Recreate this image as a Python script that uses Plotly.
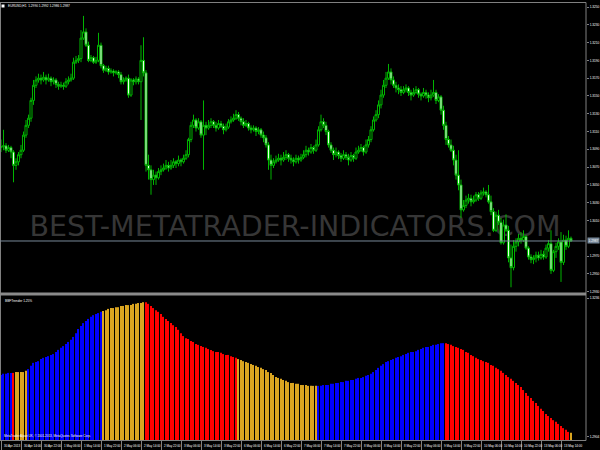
import plotly.graph_objects as go

# ---------------- data (EURUSD H1, 30 Apr 2013 06:00 .. 13 May 2013 18:00) ----------------
PIP_BASE = 1.2900   # prices below are stored in pips above this level
PIP = 0.0001

BAR_INDEX = list(range(229))

OPEN_PIPS = [192,193,194,189,192,187,172,176,184,189, 206,217,225,245,262,268,270,268,271,268,
             270,266,268,263,261,262,261,266,268,270, 288,290,292,315,322,307,290,293,288,290,
             307,284,279,281,277,278,276,277,274,266, 268,270,251,268,266,269,266,290,276,172,
             167,156,161,158,165,167,169,172,169,172, 176,174,178,176,180,184,201,217,223,214,
             221,206,217,214,217,221,217,214,219,216, 212,215,221,223,225,229,225,221,217,219,
             214,212,214,210,212,206,203,195,178,172, 176,178,180,178,181,184,180,178,176,180,
             178,181,184,189,187,192,189,195,212,221, 217,210,195,189,184,187,183,180,184,181,
             178,183,180,187,189,192,187,195,201,212, 223,229,240,251,262,270,277,268,262,259,
             257,254,257,259,254,251,254,257,252,250, 254,251,248,251,254,245,249,234,217,201,
             195,189,178,161,150,122,127,133,135,131, 133,139,135,141,142,139,131,120,99,116,
             108,85,105,99,68,57,81,86,90,88, 92,79,69,66,68,71,68,72,69,79,
             84,54,75,81,86,63,88,81,90]
HIGH_PIPS = [201,212,197,195,194,189,180,187,195,210, 223,229,248,268,272,275,274,277,274,275,
             272,271,270,266,266,265,270,272,275,293, 295,296,324,340,326,311,296,295,294,321,
             310,286,284,284,281,280,279,279,277,271, 272,274,270,270,272,271,307,316,279,184,
             172,167,165,169,172,174,178,176,178,180, 178,183,180,184,189,203,221,229,225,225,
             223,245,221,223,225,223,221,223,222,219, 219,224,227,230,234,232,227,225,223,221,
             217,217,216,215,214,210,206,198,184,180, 183,185,184,187,189,186,184,181,184,183,
             185,189,194,192,196,194,201,216,229,225, 221,212,198,192,192,189,186,189,187,185,
             187,185,192,194,196,194,201,205,216,227, 234,245,257,268,277,286,281,272,266,263,
             261,261,263,261,257,259,261,259,254,259, 257,254,257,268,257,252,251,239,221,205,
             201,194,184,189,156,133,138,140,139,138, 142,142,144,147,144,150,138,124,120,122,
             113,111,117,104,83,88,90,95,97,99, 94,81,72,71,75,75,77,76,83,88,
             99,77,85,90,97,94,93,99,92]
LOW_PIPS = [187,189,186,187,180,153,167,172,180,187, 203,214,221,240,259,265,263,266,263,266,
            261,263,259,257,259,257,259,263,266,268, 286,287,288,313,305,288,288,286,286,288,
            281,276,277,274,275,272,274,270,263,263, 266,248,249,262,263,263,223,272,165,156,
            139,150,150,156,161,165,167,165,167,169, 169,171,171,174,178,181,198,214,210,212,
            203,167,206,212,214,214,210,212,214,207, 210,213,219,221,223,222,217,214,215,211,
            208,210,205,207,203,198,192,167,156,169, 174,176,172,176,178,176,174,171,174,174,
            176,179,181,183,185,185,187,193,210,214, 206,192,186,178,181,179,176,178,178,172,
            176,176,178,185,187,183,185,192,198,210, 221,225,236,248,259,268,263,259,254,252,
            250,252,254,250,245,249,252,248,245,248, 247,243,245,249,241,243,229,212,195,192,
            187,172,156,144,113,120,124,129,126,129, 131,132,133,138,136,129,116,97,97,105,
            83,83,97,63,35,54,75,81,84,86, 77,66,62,61,63,65,66,66,67,75,
            50,52,68,77,41,60,77,79,86]
CLOSE_PIPS = [193,194,189,192,187,172,176,184,189,206, 217,225,245,262,268,270,268,271,268,270,
              266,268,263,261,262,261,266,268,270,288, 290,292,315,322,307,290,293,288,290,307,
              284,279,281,277,278,276,277,274,266,268, 270,251,268,266,269,266,290,276,172,167,
              156,161,158,165,167,169,172,169,172,176, 174,178,176,180,184,201,217,223,214,221,
              206,217,214,217,221,217,214,219,216,212, 215,221,223,225,229,225,221,217,219,214,
              212,214,210,212,206,203,195,178,172,176, 178,180,178,181,184,180,178,176,180,178,
              181,184,189,187,192,189,195,212,221,217, 210,195,189,184,187,183,180,184,181,178,
              183,180,187,189,192,187,195,201,212,223, 229,240,251,262,270,277,268,262,259,257,
              254,257,259,254,251,254,257,252,250,254, 251,248,251,254,245,249,234,217,201,195,
              189,178,161,150,122,127,133,135,131,133, 139,135,141,142,139,131,120,99,116,108,
              85,105,99,68,57,81,86,90,88,92, 79,69,66,68,71,68,72,69,79,84,
              54,75,81,86,63,88,81,90,87]

# indicator histogram values (pips above PIP_BASE) and its colour state runs
IND_PIPS = [152,155,155,157,157,157,159,159,159,159,162,
            166,174,181,183,185,190,193,195,197,200,202,207,212,217,221,226,231,236,243,252,
            262,269,276,281,286,291,295,298,300,303,
            305,307,310,312,312,314,314,317,317,319,319,319,322,322,324,324,326,
            326,322,317,312,307,303,298,291,286,281,276,271,267,260,252,245,240,238,233,231,
            226,224,221,219,217,214,212,209,207,207,205,202,200,200,197,195,193,
            190,188,185,183,181,178,176,174,171,169,166,164,159,157,152,147,145,143,140,138,
            135,133,133,131,131,128,128,128,126,126,126,126,
            126,126,128,128,128,131,131,133,133,135,135,138,138,140,140,143,145,145,147,150,
            152,155,159,164,169,174,178,183,185,188,190,193,195,197,200,202,205,207,207,209,
            212,214,217,219,219,221,224,224,226,228,228,
            228,226,224,221,219,217,214,212,207,205,200,197,193,190,188,185,183,181,176,174,
            169,166,162,157,152,147,143,138,133,128,123,116,109,102,97,90,85,78,71,66,
            59,54,49,44,40,35,30,25,21,16,
            14]
IND_RUNS = [("up", 5), ("down", 1), ("flat", 5), ("up", 30), ("flat", 17), ("down", 37),
            ("flat", 32), ("up", 51), ("down", 50), ("flat", 1)]
STATE_COLORS = {"up": "#0000ff", "down": "#ff0000", "flat": "#daa520"}

PRICE_TICKS = [1.3250, 1.3230, 1.3210, 1.3190, 1.3170, 1.3150, 1.3130, 1.3110, 1.3090,
               1.3070, 1.3050, 1.3030, 1.3010, 1.2970, 1.2950, 1.2930]
IND_TICKS = [1.3236, 1.2904]
CURRENT_PRICE = 1.2987

TIME_TICK_BARS = [0, 8, 16, 24, 32, 40, 48, 56, 64, 72, 80, 88, 96, 104, 112, 120, 128,
                  136, 144, 152, 160, 168, 176, 184, 192, 200, 208, 216, 224]
TIME_LABELS = ["30 Apr 2013", "30 Apr 14:00", "30 Apr 22:00",
               "1 May 06:00", "1 May 14:00", "1 May 22:00",
               "2 May 06:00", "2 May 14:00", "2 May 22:00",
               "3 May 06:00", "3 May 14:00", "3 May 22:00",
               "6 May 06:00", "6 May 14:00", "6 May 22:00",
               "7 May 06:00", "7 May 14:00", "7 May 22:00",
               "8 May 06:00", "8 May 14:00", "8 May 22:00",
               "9 May 06:00", "9 May 14:00", "9 May 22:00",
               "10 May 06:00", "10 May 14:00", "10 May 22:00",
               "13 May 06:00", "13 May 14:00"]

TITLE = "EURUSD,H1  1.2990 1.2992 1.2986 1.2987"
IND_TITLE = "BBFTrender 1.25%"
COPYRIGHT = "MetaTrader Alpari UK, © 2001-2013, MetaQuotes Software Corp."
WATERMARK = "BEST-METATRADER-INDICATORS.COM"

# ---------------- build ----------------
def to_price(p):
    return round(PIP_BASE + p * PIP, 5)

o = [to_price(v) for v in OPEN_PIPS]
h = [to_price(v) for v in HIGH_PIPS]
l = [to_price(v) for v in LOW_PIPS]
c = [to_price(v) for v in CLOSE_PIPS]
ind = [to_price(v) for v in IND_PIPS]

colors = []
for state, n in IND_RUNS:
    colors += [STATE_COLORS[state]] * n

W, H = 600, 450
PLOT_R = 586 / W
X_RANGE = [-0.4, 234.0]
MAIN_RANGE = [1.29291, 1.32545]
IND_RANGE = [1.28966, 1.32408]
IND_BASE = IND_RANGE[0]

def py(px):
    return 1 - px / H

FONT = "Liberation Sans, Arial, sans-serif"
GRAY = "#808080"

fig = go.Figure()

fig.add_trace(go.Scatter(
    x=[117.6], y=[1.30005], mode="text", text=[WATERMARK],
    textfont=dict(family="DejaVu Sans", size=28.5, color="#363636"),
    xaxis="x", yaxis="y", hoverinfo="skip", showlegend=False))

fig.add_trace(go.Candlestick(
    x=BAR_INDEX, open=o, high=h, low=l, close=c,
    xaxis="x3", yaxis="y3",
    increasing=dict(line=dict(color="#00b400", width=1), fillcolor="#000000"),
    decreasing=dict(line=dict(color="#00b400", width=1), fillcolor="#e8ffe8"),
    whiskerwidth=0, hoverinfo="skip", showlegend=False))

fig.add_trace(go.Bar(
    x=BAR_INDEX, y=[round(v - IND_BASE, 5) for v in ind], base=IND_BASE,
    xaxis="x2", yaxis="y2", width=0.42,
    marker=dict(color=colors, line=dict(width=0)),
    hoverinfo="skip", showlegend=False))

tickfont = dict(family=FONT, size=3.2, color="#ffffff")

fig.update_layout(
    width=W, height=H, margin=dict(l=0, r=0, t=0, b=0),
    paper_bgcolor="#000000", plot_bgcolor="#000000",
    showlegend=False, hovermode=False, boxgap=0.1, boxgroupgap=0.1,
    xaxis=dict(domain=[0, PLOT_R], range=X_RANGE, visible=False, anchor="y",
               rangeslider=dict(visible=False), fixedrange=True),
    yaxis=dict(domain=[py(292.5), py(3)], range=MAIN_RANGE, side="right", anchor="x",
               tickvals=PRICE_TICKS, ticktext=[f"{v:.4f}" for v in PRICE_TICKS],
               ticks="outside", ticklen=2, tickcolor=GRAY, tickwidth=1, automargin=False,
               tickfont=tickfont, showgrid=False, zeroline=False, showline=False),
    xaxis3=dict(overlaying="x", range=X_RANGE, visible=False, anchor="y3",
                rangeslider=dict(visible=False)),
    yaxis3=dict(overlaying="y", range=MAIN_RANGE, visible=False, anchor="x3"),
    xaxis2=dict(domain=[0, PLOT_R], range=X_RANGE, anchor="y2",
                tickvals=TIME_TICK_BARS, ticks="outside", ticklen=9, tickcolor=GRAY,
                tickwidth=1, showticklabels=False, showgrid=False, zeroline=False,
                showline=False, rangeslider=dict(visible=False), automargin=False),
    yaxis2=dict(domain=[py(440), py(296)], range=IND_RANGE, side="right", anchor="x2",
                tickvals=IND_TICKS, ticktext=[f"{v:.4f}" for v in IND_TICKS],
                ticks="outside", ticklen=2, tickcolor=GRAY, tickwidth=1, automargin=False,
                tickfont=tickfont, showgrid=False, zeroline=False, showline=False),
)

shapes = [
    dict(type="line", xref="paper", yref="paper", x0=0, x1=PLOT_R, y0=py(2.5), y1=py(2.5),
         line=dict(color=GRAY, width=1)),
    dict(type="line", xref="paper", yref="paper", x0=0.5 / W, x1=0.5 / W, y0=py(2.5), y1=py(440.5),
         line=dict(color=GRAY, width=1)),
    dict(type="line", xref="paper", yref="paper", x0=PLOT_R, x1=PLOT_R, y0=py(2.5), y1=py(440.5),
         line=dict(color=GRAY, width=1)),
    dict(type="rect", xref="paper", yref="paper", x0=0, x1=PLOT_R, y0=py(295.5), y1=py(292.5),
         fillcolor="#8a8a8a", line=dict(width=0)),
    dict(type="line", xref="paper", yref="paper", x0=0, x1=PLOT_R, y0=py(440.5), y1=py(440.5),
         line=dict(color=GRAY, width=1)),
    dict(type="line", xref="paper", yref="y", x0=0, x1=PLOT_R, y0=CURRENT_PRICE, y1=CURRENT_PRICE,
         line=dict(color="#778899", width=1)),
    dict(type="rect", xref="paper", yref="paper", x0=1.5 / W, x1=4.5 / W, y0=py(7.5), y1=py(4.5),
         fillcolor="#ffffff", line=dict(width=0)),
]

annotations = [
    dict(text=TITLE, xref="paper", yref="paper", x=6 / W, y=py(6), xanchor="left",
         yanchor="middle", showarrow=False, font=dict(family=FONT, size=3.2, color="#ffffff")),
    dict(text=IND_TITLE, xref="paper", yref="paper", x=3 / W, y=py(300.5), xanchor="left",
         yanchor="middle", showarrow=False, font=dict(family=FONT, size=3.2, color="#ffffff")),
    dict(text=COPYRIGHT, xref="paper", yref="paper", x=2 / W, y=py(436), xanchor="left",
         yanchor="middle", showarrow=False, font=dict(family=FONT, size=3.0, color="#ffffff")),
    dict(text=f"{CURRENT_PRICE:.4f}", xref="paper", yref="y", x=587 / W, y=CURRENT_PRICE,
         xanchor="left", yanchor="middle", showarrow=False, bgcolor="#778899", borderpad=0.6,
         font=dict(family=FONT, size=3.2, color="#ffffff")),
]
for b, lab in zip(TIME_TICK_BARS, TIME_LABELS):
    annotations.append(dict(text=lab, xref="x2", yref="paper", x=b, y=py(445.5),
                            xanchor="left", yanchor="middle", xshift=1, showarrow=False,
                            font=dict(family=FONT, size=3.0, color="#ffffff")))

fig.update_layout(shapes=shapes, annotations=annotations)

# remove the page's default 8px body margin so the 600x450 figure fills the window
fig.write_html("out.html", config={"displayModeBar": False},
               post_script="document.body.style.margin='0';document.body.style.overflow='hidden';")
